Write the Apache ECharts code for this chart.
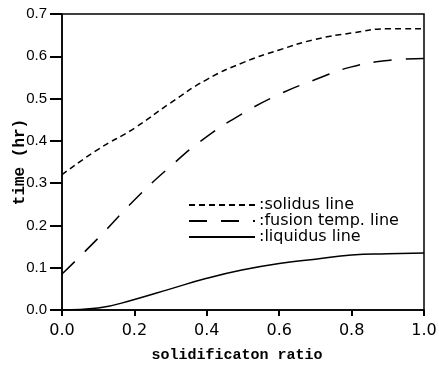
<!DOCTYPE html>
<html>
<head>
<meta charset="utf-8">
<script src="https://cdn.jsdelivr.net/npm/echarts@6/dist/echarts.min.js"></script>
<style>
  html, body { margin: 0; padding: 0; background: #fff; }
  #chart { width: 439px; height: 368px; }
</style>
</head>
<body>
<div id="chart"></div>
<script>
const ratios = [0, 0.1, 0.2, 0.3, 0.4, 0.5, 0.6, 0.7, 0.8, 0.9, 1.0];
const solidus = [0.32, 0.38, 0.43, 0.49, 0.545, 0.585, 0.615, 0.64, 0.655, 0.665, 0.665];
const fusion = [0.085, 0.17, 0.26, 0.34, 0.41, 0.465, 0.51, 0.545, 0.575, 0.59, 0.595];
const liquidus = [0, 0.005, 0.025, 0.05, 0.075, 0.095, 0.11, 0.12, 0.13, 0.133, 0.135];
const seriesNames = [":solidus line", ":fusion temp. line", ":liquidus line"];

function pairs(ys) {
    return ratios.map((x, i) => [x, ys[i]]);
}

const chart = echarts.init(document.getElementById("chart"));

const lineSeries = (name, ys, dash) => ({
    name: name,
    type: "line",
    data: pairs(ys),
    smooth: true,
    symbol: "none",
    lineStyle: { color: "#000", width: 1.5, type: dash },
    itemStyle: { color: "#000" }
});

chart.setOption({
    animation: false,
    grid: {
        left: 62, right: 15, top: 14, bottom: 58,
        containLabel: false, outerBoundsMode: "none",
        show: true, borderColor: "#000", borderWidth: 1.5
    },
    legend: {
        orient: "vertical",
        left: 183,
        top: 192,
        itemWidth: 66,
        itemHeight: 10,
        itemGap: 0,
        itemStyle: { opacity: 0 },
        textStyle: { fontFamily: "DejaVu Sans", fontSize: 16, lineHeight: 14, color: "#000", padding: [0, 0, 0, -1] },
        data: seriesNames
    },
    xAxis: {
        type: "value",
        min: 0,
        max: 1,
        interval: 0.2,
        name: "solidificaton ratio",
        nameLocation: "middle",
        nameGap: 38,
        nameMoveOverlap: false,
        nameTextStyle: { fontFamily: "Liberation Mono", fontWeight: "bold", fontSize: 15, color: "#000", padding: [0, 12, 0, 0] },
        axisLine: { show: true, onZero: false, lineStyle: { color: "#000", width: 1.5 } },
        axisTick: { show: true, inside: false, length: 6, lineStyle: { color: "#000", width: 2 } },
        axisLabel: {
            fontFamily: "DejaVu Sans", fontSize: 16, color: "#000", margin: 13,
            formatter: (v) => v.toFixed(1)
        },
        splitLine: { show: false }
    },
    yAxis: {
        type: "value",
        min: 0,
        max: 0.7,
        interval: 0.1,
        name: "time (hr)",
        nameLocation: "middle",
        nameGap: 34,
        nameMoveOverlap: false,
        nameTextStyle: { fontFamily: "Liberation Mono", fontWeight: "bold", fontSize: 16, color: "#000" },
        axisLine: { show: true, onZero: false, lineStyle: { color: "#000", width: 1.5 } },
        axisTick: { show: true, inside: false, length: 12, lineStyle: { color: "#000", width: 2 } },
        axisLabel: {
            fontFamily: "Liberation Sans", fontSize: 15, color: "#000", margin: 15,
            formatter: (v) => v.toFixed(1)
        },
        splitLine: { show: false }
    },
    series: [
        lineSeries(seriesNames[0], solidus, [6, 4]),
        lineSeries(seriesNames[1], fusion, [18, 14]),
        lineSeries(seriesNames[2], liquidus, "solid")
    ]
});
</script>
</body>
</html>
